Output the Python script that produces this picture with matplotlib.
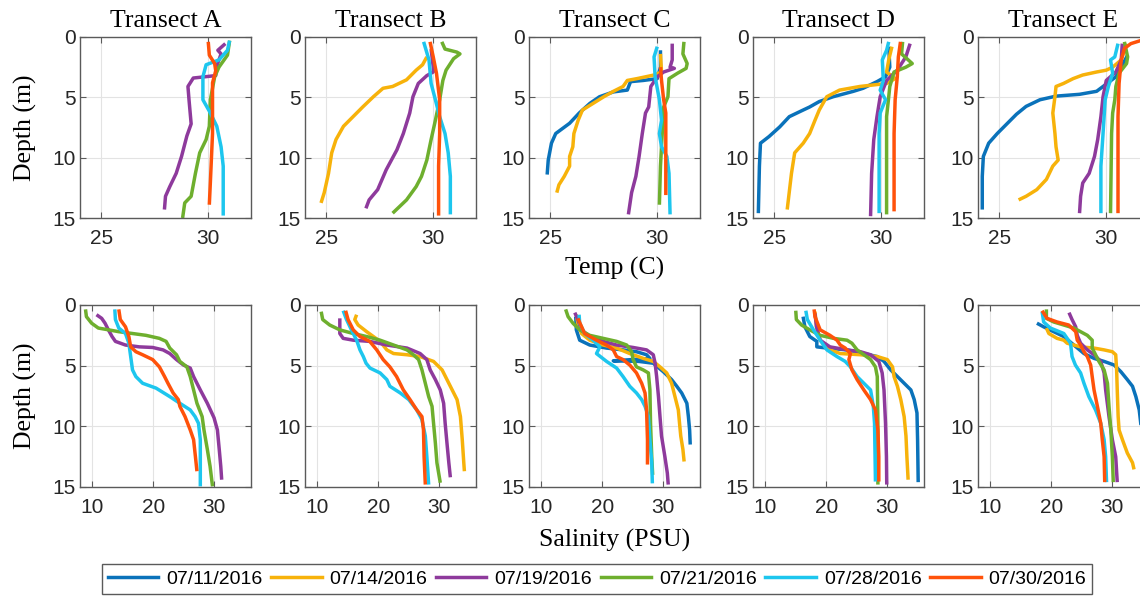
import matplotlib
matplotlib.use("Agg")
import matplotlib.pyplot as plt
from matplotlib.lines import Line2D

# fechas y colores de los perfiles
dates = ["07/11/2016", "07/14/2016", "07/19/2016", "07/21/2016", "07/28/2016", "07/30/2016"]
colors = ["#0A72BA", "#F7B20A", "#8E3A9C", "#6EAF2E", "#1DC6EE", "#FF520A"]
transects = ["A", "B", "C", "D", "E"]

# Temperatura (C) vs profundidad (m): pares (valor, profundidad)
temp_A = {
    "07/19/2016": [(30.8, 0.55), (30.45, 1.1), (30.6, 1.4), (30.4, 2.4), (30.35, 3.2), (29.3, 3.4), (29.05, 4.1), (29.1, 5.2), (29.2, 7.2), (29.0, 8.2), (28.75, 9.9), (28.5, 11.3), (28.2, 12.4), (28.0, 13.2), (27.95, 14.3)],
    "07/21/2016": [(31.0, 0.3), (30.9, 1.5), (30.5, 2.5), (30.3, 3.3), (30.1, 5.2), (30.05, 7.4), (29.9, 8.5), (29.6, 9.6), (29.4, 11.3), (29.2, 13.2), (28.9, 13.75), (28.8, 15.0)],
    "07/28/2016": [(31.0, 0.3), (30.9, 1.1), (30.5, 1.9), (29.9, 2.3), (29.75, 3.3), (29.75, 5.2), (30.1, 6.3), (30.4, 7.4), (30.6, 9.1), (30.7, 10.7), (30.7, 14.8)],
    "07/30/2016": [(30.0, 0.4), (30.05, 1.5), (30.3, 2.2), (30.35, 2.8), (30.2, 3.8), (30.2, 6.0), (30.2, 8.0), (30.15, 10.0), (30.1, 12.0), (30.05, 13.9)],
}
temp_B = {
    "07/14/2016": [(29.7, 1.65), (29.5, 2.3), (29.2, 2.75), (28.75, 3.55), (28.1, 4.1), (27.65, 4.25), (27.2, 4.95), (26.7, 5.8), (26.25, 6.6), (25.8, 7.4), (25.45, 8.5), (25.25, 9.6), (25.1, 11.3), (24.9, 12.9), (24.75, 13.75)],
    "07/19/2016": [(29.9, 1.0), (30.0, 2.5), (30.0, 2.9), (29.7, 3.2), (29.3, 3.85), (29.05, 4.95), (28.9, 6.3), (28.6, 8.0), (28.3, 9.35), (27.8, 11.0), (27.4, 12.65), (27.0, 13.5), (26.85, 14.2)],
    "07/21/2016": [(30.4, 0.4), (30.55, 1.0), (31.1, 1.25), (31.25, 1.4), (30.95, 1.8), (30.6, 2.75), (30.45, 3.6), (30.3, 5.2), (30.1, 6.9), (29.9, 8.5), (29.7, 10.2), (29.45, 11.55), (29.2, 12.4), (28.75, 13.5), (28.1, 14.6)],
    "07/28/2016": [(29.55, 0.4), (29.8, 1.9), (29.9, 3.85), (30.1, 5.2), (30.3, 6.6), (30.55, 8.0), (30.7, 9.6), (30.8, 11.55), (30.8, 14.7)],
    "07/30/2016": [(29.85, 0.4), (30.0, 1.65), (30.15, 3.0), (30.3, 5.2), (30.3, 8.0), (30.25, 10.7), (30.25, 14.8)],
}
temp_C = {
    "07/11/2016": [(30.15, 1.1), (30.15, 2.5), (30.0, 3.45), (29.35, 3.6), (28.75, 3.7), (28.6, 4.4), (27.95, 4.55), (27.3, 4.95), (26.85, 5.5), (26.35, 6.3), (25.9, 7.15), (25.25, 8.0), (25.05, 8.8), (24.9, 10.2), (24.85, 11.4)],
    "07/14/2016": [(30.15, 1.4), (30.2, 2.9), (29.85, 3.15), (29.05, 3.45), (28.6, 3.6), (28.4, 4.1), (27.95, 4.5), (27.5, 4.95), (27.0, 5.5), (26.5, 6.05), (26.3, 6.9), (26.1, 8.0), (26.05, 9.1), (25.9, 9.9), (25.9, 10.7), (25.65, 11.55), (25.4, 12.25), (25.3, 12.9)],
    "07/19/2016": [(30.7, 0.55), (30.7, 1.9), (30.6, 2.5), (30.8, 2.6), (30.3, 2.9), (30.0, 3.3), (29.7, 4.1), (29.6, 5.8), (29.45, 6.3), (29.3, 8.0), (29.15, 9.9), (29.0, 11.55), (28.8, 12.9), (28.65, 14.7)],
    "07/21/2016": [(31.25, 0.4), (31.2, 1.4), (31.4, 2.2), (31.35, 2.6), (30.95, 3.0), (30.55, 3.45), (30.5, 4.95), (30.3, 5.8), (30.25, 7.45), (30.15, 10.7), (30.1, 13.9)],
    "07/28/2016": [(30.0, 0.8), (29.85, 1.65), (29.9, 3.3), (30.1, 5.2), (30.2, 6.9), (30.1, 8.0), (30.2, 9.1), (30.45, 9.9), (30.55, 11.3), (30.6, 14.7)],
    "07/30/2016": [(30.15, 2.5), (30.2, 3.6), (30.3, 5.2), (30.4, 6.3), (30.4, 13.1)],
}
temp_D = {
    "07/11/2016": [(30.35, 0.8), (30.4, 2.5), (30.2, 3.3), (29.8, 3.7), (29.15, 4.25), (28.7, 4.5), (27.75, 4.95), (27.1, 5.35), (26.65, 5.8), (26.35, 6.05), (25.7, 6.6), (25.25, 7.45), (24.75, 8.25), (24.35, 8.8), (24.3, 10.7), (24.25, 14.6)],
    "07/14/2016": [(30.5, 0.8), (30.35, 1.9), (30.25, 2.9), (30.65, 3.45), (30.25, 3.85), (29.0, 4.1), (28.05, 4.4), (27.45, 4.95), (27.1, 6.05), (26.9, 6.9), (26.65, 8.0), (26.35, 8.8), (25.95, 9.6), (25.8, 11.3), (25.6, 14.3)],
    "07/19/2016": [(31.35, 0.55), (31.15, 1.65), (30.75, 2.75), (30.25, 3.6), (29.95, 4.95), (29.8, 6.6), (29.65, 8.5), (29.55, 11.3), (29.5, 14.85)],
    "07/21/2016": [(31.0, 0.4), (30.95, 1.4), (31.45, 2.2), (31.15, 2.5), (30.6, 2.9), (30.4, 4.1), (30.35, 4.95), (30.25, 6.6), (30.25, 10.7), (30.25, 14.7)],
    "07/28/2016": [(30.35, 0.4), (30.25, 1.1), (30.05, 1.9), (30.1, 3.6), (29.95, 4.4), (30.2, 5.2), (29.95, 6.3), (29.9, 8.0), (29.9, 10.7), (29.9, 14.6)],
    "07/30/2016": [(30.9, 0.4), (30.8, 1.65), (30.75, 3.3), (30.65, 5.2), (30.6, 8.0), (30.6, 14.45)],
}
temp_E = {
    "07/11/2016": [(31.0, 1.5), (30.85, 2.0), (30.45, 3.3), (29.85, 4.1), (29.55, 4.5), (28.75, 4.75), (27.65, 4.9), (26.9, 5.2), (26.25, 5.75), (25.8, 6.4), (25.35, 7.2), (24.9, 8.0), (24.5, 8.8), (24.25, 9.9), (24.2, 11.55), (24.2, 14.3)],
    "07/14/2016": [(30.95, 0.55), (30.7, 1.9), (30.3, 2.5), (30.0, 2.75), (29.55, 2.9), (28.9, 3.15), (28.45, 3.45), (28.0, 3.85), (27.65, 4.1), (27.6, 4.95), (27.5, 6.3), (27.6, 8.0), (27.65, 9.1), (27.75, 10.2), (27.5, 10.7), (27.2, 11.8), (26.75, 12.65), (26.25, 13.2), (25.9, 13.5)],
    "07/19/2016": [(30.75, 0.55), (30.7, 1.9), (30.45, 2.9), (30.0, 3.6), (29.85, 4.95), (29.75, 6.6), (29.6, 8.5), (29.45, 9.9), (29.2, 11.3), (28.9, 12.1), (28.8, 13.2), (28.75, 14.6)],
    "07/21/2016": [(30.85, 0.4), (31.0, 1.65), (30.95, 2.2), (30.6, 3.0), (30.45, 4.1), (30.4, 5.2), (30.3, 6.3), (30.25, 8.0), (30.2, 14.6)],
    "07/28/2016": [(30.55, 0.55), (30.4, 1.65), (30.2, 1.9), (30.3, 3.0), (30.1, 4.1), (29.95, 5.2), (29.85, 8.0), (29.75, 10.7), (29.75, 14.6)],
    "07/30/2016": [(31.6, 0.3), (31.15, 0.55), (30.85, 0.95), (30.7, 1.9), (30.6, 3.85), (30.55, 6.6), (30.55, 14.6)],
}

# Salinidad (PSU) vs profundidad (m)
sal_A = {
    "07/19/2016": [(10.7, 0.8), (11.55, 1.1), (12.1, 1.5), (12.65, 2.05), (13.25, 2.6), (13.8, 3.0), (15.45, 3.3), (17.7, 3.45), (19.9, 3.5), (21.6, 3.7), (22.7, 4.0), (23.8, 4.5), (24.95, 4.95), (26.05, 5.2), (26.6, 5.9), (27.7, 7.0), (28.85, 8.1), (29.95, 9.3), (30.5, 10.3), (30.8, 11.9), (31.05, 13.3), (31.2, 14.4)],
    "07/21/2016": [(8.9, 0.36), (9.05, 0.96), (9.9, 1.5), (11.0, 1.9), (12.7, 2.05), (14.35, 2.2), (16.6, 2.35), (18.8, 2.5), (21.0, 2.75), (22.1, 3.0), (22.7, 3.55), (23.8, 4.1), (24.35, 4.65), (25.5, 5.1), (26.05, 5.9), (26.6, 7.0), (27.15, 8.1), (28.0, 9.2), (28.3, 10.3), (28.85, 11.9), (29.3, 13.3), (29.7, 14.95)],
    "07/28/2016": [(13.7, 0.36), (13.8, 1.2), (14.35, 1.9), (15.45, 2.35), (16.0, 3.15), (16.3, 4.25), (16.6, 5.35), (17.15, 5.9), (18.25, 6.45), (20.45, 6.85), (22.7, 7.55), (24.35, 8.1), (26.05, 8.65), (26.85, 9.2), (27.4, 9.75), (27.7, 11.1), (27.7, 14.95)],
    "07/30/2016": [(14.35, 0.36), (14.6, 1.2), (15.45, 1.8), (16.0, 2.6), (16.3, 3.45), (17.15, 3.85), (18.25, 4.1), (19.9, 4.5), (21.0, 5.1), (21.85, 5.9), (22.4, 6.45), (23.25, 7.25), (24.1, 7.8), (24.35, 8.35), (25.2, 9.2), (26.05, 10.3), (26.6, 11.1), (26.9, 12.5), (27.15, 13.7)],
}
sal_B = {
    "07/14/2016": [(16.45, 0.8), (16.15, 1.2), (16.7, 1.65), (18.1, 2.2), (19.2, 2.6), (20.3, 3.0), (21.4, 3.7), (22.5, 4.0), (24.7, 4.1), (26.85, 4.25), (29.05, 4.65), (30.45, 5.35), (31.25, 6.15), (32.1, 7.0), (32.9, 7.8), (33.45, 9.2), (33.75, 11.1), (34.0, 13.0), (34.1, 13.7)],
    "07/19/2016": [(13.7, 1.1), (13.7, 2.35), (14.25, 2.75), (15.9, 2.9), (18.6, 3.0), (21.4, 3.3), (24.7, 3.55), (26.85, 4.0), (27.95, 4.5), (28.5, 5.35), (29.35, 6.15), (30.15, 7.0), (30.7, 8.1), (30.95, 9.75), (31.25, 11.4), (31.55, 13.0), (31.8, 14.2)],
    "07/21/2016": [(10.65, 0.55), (10.9, 1.2), (12.05, 1.65), (13.7, 2.05), (15.9, 2.35), (18.1, 2.6), (20.3, 2.9), (22.5, 3.3), (24.7, 3.7), (25.75, 4.1), (26.6, 4.5), (27.15, 5.35), (27.7, 6.45), (28.25, 7.55), (28.8, 8.35), (29.05, 9.75), (29.35, 11.4), (29.6, 13.0), (30.15, 14.65)],
    "07/28/2016": [(14.25, 0.47), (14.8, 1.2), (15.6, 2.05), (16.45, 2.9), (17.0, 3.7), (17.55, 4.25), (18.0, 4.8), (18.65, 5.2), (20.3, 5.6), (21.4, 6.15), (21.9, 6.7), (23.6, 7.25), (25.0, 7.8), (26.3, 8.65), (27.15, 9.45), (27.7, 10.8), (27.95, 12.5), (28.25, 14.8)],
    "07/30/2016": [(14.65, 0.47), (15.05, 1.2), (15.9, 2.05), (17.0, 2.6), (18.6, 3.0), (19.75, 3.7), (20.8, 4.5), (21.9, 5.1), (23.0, 5.9), (24.1, 7.0), (25.2, 7.8), (26.3, 8.65), (27.15, 9.2), (27.4, 10.3), (27.5, 12.5), (27.7, 14.8)],
}
sal_C = {
    "07/11/2016": [(15.65, 0.96), (15.75, 2.05), (16.3, 2.9), (17.95, 3.3), (20.7, 3.55), (23.4, 3.7), (25.6, 3.85), (27.25, 4.1), (27.8, 4.4), (21.8, 4.6), (26.0, 4.65), (28.35, 4.8), (30.0, 5.5), (31.35, 6.15), (32.2, 6.7), (33.0, 7.25), (33.85, 8.1), (34.1, 9.2), (34.3, 10.3), (34.4, 11.5)],
    "07/14/2016": [(15.75, 0.8), (16.0, 1.5), (16.6, 2.35), (17.95, 2.9), (20.15, 3.3), (22.35, 3.55), (24.5, 4.0), (26.7, 4.4), (28.35, 4.65), (29.45, 5.1), (30.55, 5.6), (31.35, 6.45), (31.9, 7.55), (32.45, 8.65), (32.65, 9.75), (32.85, 10.8), (33.2, 11.9), (33.4, 12.9)],
    "07/19/2016": [(15.5, 0.63), (16.0, 1.2), (16.6, 2.05), (17.95, 2.6), (20.15, 3.0), (22.35, 3.3), (25.05, 3.5), (27.25, 3.7), (28.35, 4.1), (28.65, 4.8), (28.9, 5.9), (29.2, 7.55), (29.45, 9.2), (29.7, 10.8), (30.25, 12.5), (30.65, 13.85), (30.8, 14.8)],
    "07/21/2016": [(14.0, 0.36), (14.4, 0.96), (15.2, 1.5), (16.3, 2.05), (17.95, 2.5), (20.15, 2.75), (22.35, 3.0), (24.0, 3.3), (24.8, 3.85), (25.05, 4.5), (25.6, 5.1), (26.7, 5.35), (27.55, 5.6), (27.8, 7.0), (27.9, 9.75), (28.1, 12.5), (28.25, 14.0)],
    "07/28/2016": [(16.2, 0.8), (16.3, 1.5), (17.1, 2.35), (18.5, 2.9), (19.6, 3.45), (19.05, 4.0), (20.7, 4.65), (22.35, 5.2), (23.4, 5.9), (24.5, 6.7), (25.6, 7.25), (26.45, 7.8), (27.0, 8.35), (27.55, 9.2), (27.8, 11.1), (28.1, 13.0), (28.2, 14.7)],
    "07/30/2016": [(16.0, 1.1), (17.1, 2.35), (19.05, 2.9), (20.7, 3.3), (21.8, 3.7), (22.35, 4.25), (23.4, 4.5), (24.5, 4.95), (25.6, 5.6), (26.45, 6.45), (27.0, 7.25), (27.25, 8.65), (27.4, 11.1), (27.4, 13.15)],
}
sal_D = {
    "07/11/2016": [(16.2, 0.96), (16.5, 1.8), (17.3, 2.6), (18.45, 3.0), (18.45, 3.45), (20.1, 3.55), (23.4, 3.7), (26.15, 4.0), (28.35, 4.25), (29.45, 4.65), (30.55, 5.35), (31.65, 5.9), (32.75, 6.45), (33.85, 7.0), (34.4, 7.8), (34.85, 8.9), (34.95, 11.1), (35.05, 14.6)],
    "07/14/2016": [(18.15, 0.55), (18.4, 1.8), (19.0, 2.9), (20.6, 3.7), (22.3, 4.0), (25.6, 4.1), (28.35, 4.25), (30.0, 4.5), (30.85, 5.1), (31.1, 5.9), (31.65, 6.7), (32.2, 7.8), (32.75, 9.2), (33.05, 10.8), (33.2, 12.5), (33.4, 14.4)],
    "07/19/2016": [(18.15, 0.7), (18.4, 1.8), (19.0, 2.9), (20.6, 3.45), (23.4, 3.7), (25.6, 3.85), (27.25, 4.1), (28.6, 4.65), (29.15, 5.6), (29.45, 7.0), (29.7, 9.75), (29.85, 12.5), (29.9, 14.8)],
    "07/21/2016": [(15.0, 0.47), (15.1, 1.2), (15.95, 1.65), (17.3, 2.05), (19.0, 2.5), (21.2, 2.75), (23.4, 2.9), (24.2, 3.15), (25.05, 3.7), (26.15, 4.1), (27.25, 4.5), (28.05, 5.1), (28.35, 5.9), (28.45, 9.75), (28.45, 14.8)],
    "07/28/2016": [(16.65, 0.47), (16.9, 1.2), (17.9, 2.05), (19.0, 2.9), (20.1, 3.7), (21.75, 4.25), (23.1, 4.65), (23.95, 5.1), (25.05, 5.9), (26.15, 6.45), (27.25, 7.0), (27.7, 8.35), (27.9, 9.75), (28.05, 14.55)],
    "07/30/2016": [(18.0, 0.36), (18.15, 0.96), (19.0, 2.05), (20.6, 2.5), (21.75, 2.9), (22.3, 3.3), (23.1, 3.55), (23.95, 4.0), (23.7, 4.5), (24.2, 5.35), (25.05, 6.15), (26.15, 7.0), (27.25, 7.8), (28.05, 8.65), (28.45, 10.3), (28.6, 12.5), (28.6, 14.55)],
}
sal_E = {
    "07/11/2016": [(17.65, 1.5), (18.75, 1.8), (20.4, 2.2), (22.05, 2.6), (23.7, 3.3), (25.35, 4.0), (27.0, 4.4), (28.65, 4.65), (30.3, 4.95), (31.4, 5.5), (32.45, 6.15), (33.3, 6.7), (33.85, 7.55), (34.4, 8.65), (34.65, 9.75), (35.0, 11.0), (35.2, 14.5)],
    "07/14/2016": [(19.2, 1.9), (19.6, 2.35), (20.95, 2.75), (22.05, 2.9), (22.6, 3.15), (24.8, 3.45), (27.0, 3.55), (28.65, 3.7), (30.0, 3.85), (30.55, 4.1), (30.7, 5.35), (30.8, 7.0), (30.95, 9.2), (31.1, 10.3), (31.65, 11.1), (32.45, 12.2), (33.3, 13.0), (33.55, 13.55)],
    "07/19/2016": [(22.9, 0.63), (23.4, 1.2), (24.0, 1.8), (24.25, 2.5), (24.8, 3.15), (25.9, 3.7), (27.0, 4.1), (28.1, 4.65), (28.65, 5.6), (28.9, 7.0), (29.45, 9.2), (30.0, 11.1), (30.55, 12.5), (30.8, 14.6)],
    "07/21/2016": [(19.2, 0.36), (19.2, 1.1), (20.4, 1.4), (22.05, 1.65), (23.7, 1.9), (24.8, 2.2), (25.9, 2.5), (26.7, 2.9), (26.7, 3.55), (27.25, 4.1), (27.8, 4.65), (28.65, 5.35), (29.2, 6.45), (29.45, 8.35), (29.75, 10.3), (30.0, 12.5), (30.15, 14.6)],
    "07/28/2016": [(18.5, 0.55), (18.75, 1.4), (19.85, 1.9), (22.05, 2.35), (23.15, 3.15), (23.4, 4.25), (23.95, 4.95), (24.8, 5.6), (25.35, 6.45), (26.15, 7.55), (27.25, 8.65), (28.1, 9.75), (28.65, 11.1), (28.9, 12.5), (29.05, 14.6)],
    "07/30/2016": [(18.5, 0.47), (19.3, 1.1), (20.95, 1.4), (22.85, 1.65), (24.0, 2.2), (24.25, 2.9), (24.8, 3.3), (25.35, 3.85), (25.9, 4.25), (26.45, 4.95), (26.7, 5.9), (27.0, 7.0), (27.55, 8.35), (28.1, 9.75), (28.35, 11.1), (28.65, 12.5), (28.75, 14.6)],
}

temp_data = [temp_A, temp_B, temp_C, temp_D, temp_E]
sal_data = [sal_A, sal_B, sal_C, sal_D, sal_E]

sans = "Liberation Sans"
serif = "Liberation Serif"

W, H = 1140, 596
fig = plt.figure(figsize=(W / 100, H / 100), dpi=100)

lefts = [80, 305, 529, 753, 978]
ancho = 171
filas = [(37, 218), (305, 487)]


def estilo(ax, xlim, xticks):
    ax.set_xlim(xlim)
    ax.set_ylim(15, 0)
    ax.set_xticks(xticks)
    ax.set_yticks([0, 5, 10, 15])
    ax.grid(True, color="#E3E3E3", linewidth=0.8)
    ax.set_axisbelow(True)
    for s in ax.spines.values():
        s.set_color("#5A5A5A")
        s.set_linewidth(1.0)
    ax.tick_params(direction="in", length=4, width=0.8, top=True, right=True,
                   colors="#5A5A5A", labelcolor="#262626", labelsize=15)
    ax.tick_params(axis="x", pad=8)
    ax.tick_params(axis="y", pad=3)
    for lab in ax.get_xticklabels() + ax.get_yticklabels():
        lab.set_fontfamily(sans)


for fila, (datos, xlim, xticks) in enumerate([(temp_data, (24, 32), [25, 30]),
                                              (sal_data, (8, 36), [10, 20, 30])]):
    top, bot = filas[fila]
    for i, l in enumerate(lefts):
        ax = fig.add_axes([l / W, 1 - bot / H, ancho / W, (bot - top) / H])
        perfiles = datos[i]
        for fecha, col in zip(dates, colors):
            if fecha in perfiles:
                v, d = zip(*perfiles[fecha])
                ax.plot(v, d, color=col, linewidth=2.5, solid_capstyle="butt")
        estilo(ax, xlim, xticks)
        if fila == 0:
            ax.set_title("Transect " + transects[i], fontfamily=serif, fontsize=18.5, pad=7)
        if i == 0:
            fig.text(25 / W, 1 - (top + bot) / 2 / H, "Depth (m)", rotation=90,
                     ha="center", va="center", fontfamily=serif, fontsize=18.5)

fig.text(614.5 / W, 1 - 268 / H, "Temp (C)", ha="center", va="center",
         fontfamily=serif, fontsize=18.5)
fig.text(614.5 / W, 1 - 540 / H, "Salinity (PSU)", ha="center", va="center",
         fontfamily=serif, fontsize=18.5)

handles = [Line2D([], [], color=c, linewidth=2.5) for c in colors]
leg = fig.legend(handles, dates, loc="center", bbox_to_anchor=(597 / W, 1 - 579 / H),
                 ncol=6, frameon=True, fancybox=False, framealpha=1,
                 handlelength=2.6, handletextpad=0.4, columnspacing=0.45,
                 borderpad=0.3, prop={"family": sans, "size": 14})
leg.get_frame().set_edgecolor("#5A5A5A")
leg.get_frame().set_linewidth(1.0)

fig.savefig("out.png", dpi=100)
